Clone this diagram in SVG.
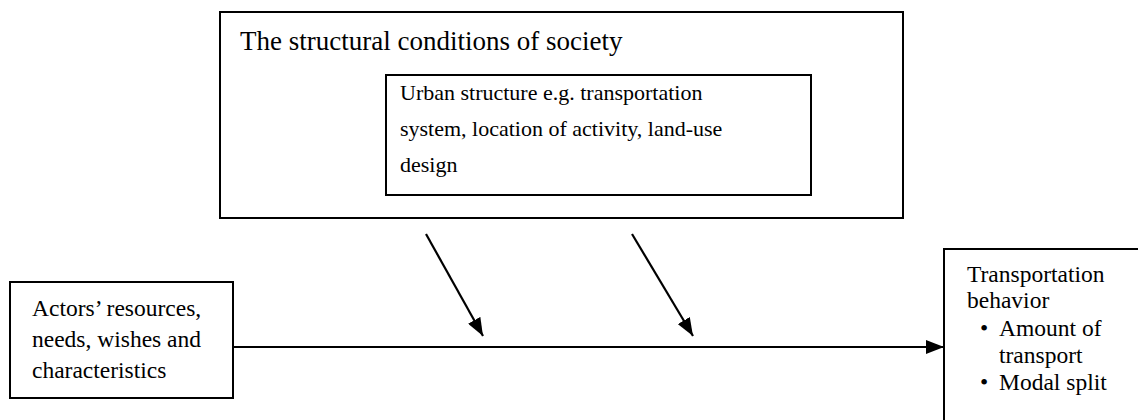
<svg xmlns="http://www.w3.org/2000/svg" width="1138" height="420" viewBox="0 0 1138 420">
<style>
.box{fill:#fff;stroke:#000;stroke-width:2}
.t{font-family:"Liberation Serif","Times New Roman",serif;fill:#000}
.conn{stroke:#000;stroke-width:2.2;fill:none}
</style>
<defs>
<marker id="ah" viewBox="0 0 18 14" refX="18" refY="7" markerWidth="18" markerHeight="14" markerUnits="userSpaceOnUse" orient="auto">
<path d="M0,0 L18,7 L0,14 Z" fill="#000"/>
</marker>
</defs>
<rect width="1138" height="420" fill="#fff"/>
<g id="society">
<rect class="box" x="220" y="12" width="683" height="206"/>
<text class="t" x="240" y="50" font-size="27">The structural conditions of society</text>
</g>
<g id="urban">
<rect class="box" x="386" y="75" width="425" height="120"/>
<text class="t" font-size="22"><tspan x="400" y="100">Urban structure e.g. transportation</tspan><tspan x="400" y="136">system, location of activity, land-use</tspan><tspan x="400" y="172">design</tspan></text>
</g>
<g id="actors">
<rect class="box" x="10" y="282" width="223" height="116"/>
<text class="t" font-size="23.5"><tspan x="32" y="316">Actors’ resources,</tspan><tspan x="32" y="347">needs, wishes and</tspan><tspan x="32" y="378">characteristics</tspan></text>
</g>
<g id="behavior">
<rect class="box" x="944" y="249" width="210" height="190"/>
<text class="t" font-size="23.5"><tspan x="967" y="282">Transportation</tspan><tspan x="967" y="308">behavior</tspan><tspan x="980" y="336">•</tspan><tspan x="999" y="336">Amount of</tspan><tspan x="999" y="363">transport</tspan><tspan x="980" y="390">•</tspan><tspan x="999" y="390">Modal split</tspan></text>
</g>
<g id="connectors">
<line class="conn" x1="233" y1="347" x2="944" y2="347" marker-end="url(#ah)"/>
<line class="conn" x1="426" y1="234" x2="483" y2="336" marker-end="url(#ah)"/>
<line class="conn" x1="632" y1="234" x2="693" y2="336" marker-end="url(#ah)"/>
</g>
</svg>
